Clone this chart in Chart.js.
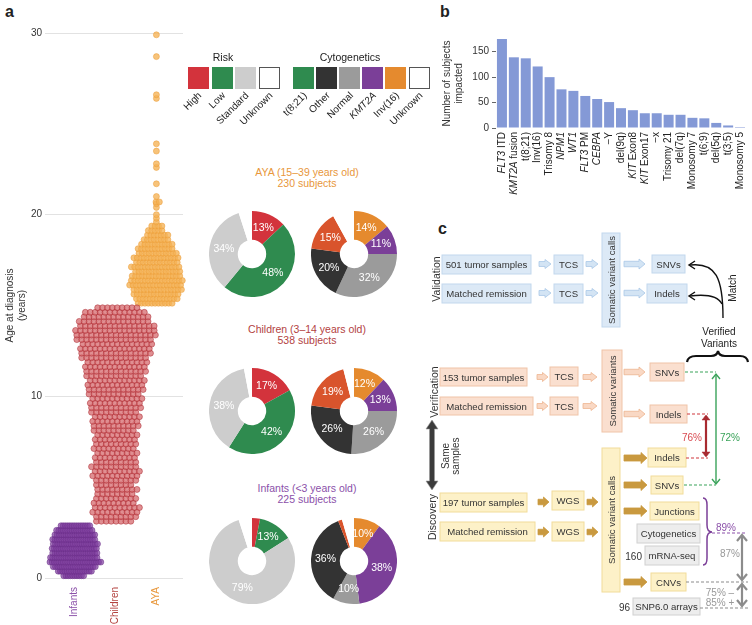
<!DOCTYPE html>
<html>
<head>
<meta charset="utf-8">
<script src="https://cdn.jsdelivr.net/npm/chart.js@4.4.1/dist/chart.umd.min.js"></script>
<style>
body { margin: 0; background: #fff; font-family: "Liberation Sans", Arial, sans-serif; color: #222; }
#page { position: relative; width: 752px; height: 625px; overflow: hidden; }
#page canvas, .abs { position: absolute; }
.panel { position: absolute; font-weight: bold; font-size: 16px; }
.sq { position: absolute; width: 21px; height: 22px; box-sizing: border-box; }
.lg { position: absolute; font-size: 10px; white-space: nowrap; transform-origin: 100% 50%; transform: rotate(-45deg); text-align: right; }
.ttl { position: absolute; width: 200px; text-align: center; font-size: 10.5px; line-height: 11px; }
</style>
</head>
<body>
<div id="page">
  <div class="panel" style="left:5px;top:3px">a</div>
  <div class="panel" style="left:440px;top:3px">b</div>
  <div class="panel" style="left:438px;top:220px">c</div>

  <canvas id="swarm" width="190" height="625" style="left:0;top:0"></canvas>
  <canvas id="bars" width="312" height="200" style="left:440px;top:0"></canvas>

  <div id="legend"></div>

  <div class="ttl" style="left:207px;top:167px;color:#e8973b">AYA (15–39 years old)<br>230 subjects</div>
  <div class="ttl" style="left:207px;top:324px;color:#b3423f">Children (3–14 years old)<br>538 subjects</div>
  <div class="ttl" style="left:207px;top:483px;color:#8b50a9">Infants (&lt;3 years old)<br>225 subjects</div>

  <canvas id="ayaRisk" width="86" height="86" style="left:209px;top:211px"></canvas>
  <canvas id="ayaCyto" width="86" height="86" style="left:311px;top:211px"></canvas>
  <canvas id="childRisk" width="86" height="86" style="left:209px;top:368px"></canvas>
  <canvas id="childCyto" width="86" height="86" style="left:311px;top:368px"></canvas>
  <canvas id="infantRisk" width="86" height="86" style="left:209px;top:518px"></canvas>
  <canvas id="infantCyto" width="86" height="86" style="left:311px;top:518px"></canvas>

  <svg id="flow" class="abs" width="752" height="625" style="left:0;top:0"></svg>
</div>

<script>
// ---- panel a: age at diagnosis, subjects per quarter-year row ----
const groupNames = ['Infants', 'Children', 'AYA'];
const infantAges = [0.125, 0.375, 0.625, 0.875, 1.125, 1.375, 1.625, 1.875, 2.125, 2.375, 2.625, 2.875];
const infantCounts = [10, 16, 20, 24, 22, 21, 21, 21, 20, 19, 17, 14];
const childAges = [3.125, 3.375, 3.625, 3.875, 4.125, 4.375, 4.625, 4.875, 5.125, 5.375, 5.625, 5.875,
  6.125, 6.375, 6.625, 6.875, 7.125, 7.375, 7.625, 7.875, 8.125, 8.375, 8.625, 8.875,
  9.125, 9.375, 9.625, 9.875, 10.125, 10.375, 10.625, 10.875, 11.125, 11.375, 11.625, 11.875,
  12.125, 12.375, 12.625, 12.875, 13.125, 13.375, 13.625, 13.875, 14.125, 14.375, 14.625, 14.875];
const childCounts = [8, 9, 10, 10, 9, 9, 8, 9, 8, 9, 10, 10,
  10, 9, 9, 9, 9, 9, 9, 9, 9, 10, 10, 10,
  10, 11, 11, 11, 11, 12, 12, 12, 12, 13, 13, 13,
  14, 15, 15, 15, 16, 17, 17, 16, 15, 14, 13, 9];
const ayaAges = [15.125, 15.375, 15.625, 15.875, 16.125, 16.375, 16.625, 16.875, 17.125, 17.375,
  17.625, 17.875, 18.125, 18.375, 18.625, 18.875, 19.125, 19.375,
  19.6, 19.8, 20.0, 20.4, 20.6, 20.7, 21.0, 21.7, 22.6, 22.8, 23.5, 23.9, 26.4, 26.6, 28.7, 29.9];
const ayaCounts = [11, 13, 14, 15, 16, 16, 15, 14, 15, 13, 14, 12, 11, 10, 8, 7, 5, 4,
  1, 1, 1, 1, 1, 2, 1, 1, 1, 1, 1, 1, 1, 1, 1, 1];
const ageTicks = [0, 10, 20, 30];

// ---- panel b ----
const alterations = ['FLT3 ITD', 'KMT2A fusion', 't(8;21)', 'Inv(16)', 'Trisomy 8', 'NPM1', 'WT1', 'FLT3 PM',
  'CEBPA', '−Y', 'del(9q)', 'KIT Exon8', 'KIT Exon17', '−x', 'Trisomy 21', 'del(7q)', 'Monosomy 7',
  't(6;9)', 'del(5q)', 't(3;5)', 'Monosomy 5'];
const subjects = [175, 139, 137, 121, 100, 76, 73, 63, 57, 51, 39, 35, 29, 29, 26, 26, 20, 19, 10, 5, 2];
const geneNames = ['FLT3', 'KMT2A', 'NPM1', 'WT1', 'CEBPA', 'KIT'];
const countTicks = [0, 50, 100, 150];

// ---- pies (percent of subjects, clockwise from 12 o'clock) ----
const riskLabels = ['High', 'Low', 'Standard', 'Unknown'];
const ayaRisk = [13, 48, 34, 5];
const childRisk = [17, 42, 38, 3];
const infantRisk = [3, 13, 79, 5];
const cytoLabels = ['Inv(16)', 'KMT2A', 'Normal', 'Other', 't(8;21)', 'Unknown'];
const ayaCyto = [14, 11, 32, 20, 15, 8];
const childCyto = [12, 13, 26, 26, 19, 4];
const infantCyto = [10, 38, 10, 36, 1.5, 4.5];

const FONT = '"Liberation Sans", Arial, sans-serif';
Chart.defaults.font.family = FONT;
Chart.defaults.color = '#333';

// swarm layout: rows centered on the group, rows nudged sideways for a packed look
const rowNudge = [0, 0.5, 0.25, 0.75];
function swarm(ages, counts, xc, gap) {
  const pts = [];
  ages.forEach((a, r) => {
    const n = counts[r];
    const nudge = n > 1 ? (rowNudge[r % 4] - 0.375) * gap : 0;
    for (let i = 0; i < n; i++) pts.push({ x: xc + (i - (n - 1) / 2) * gap + nudge, y: a });
  });
  return pts;
}

const groupColors = ['#8b50a9', '#b3423f', '#e8973b'];
const swarmLabels = {
  id: 'swarmLabels',
  afterDraw(chart) {
    const { ctx, scales: { x }, chartArea } = chart;
    groupNames.forEach((name, i) => {
      ctx.save();
      ctx.translate(x.getPixelForValue(i + 1), chartArea.bottom + 9);
      ctx.rotate(-Math.PI / 2);
      ctx.textAlign = 'right';
      ctx.textBaseline = 'middle';
      ctx.fillStyle = groupColors[i];
      ctx.font = '10px ' + FONT;
      ctx.fillText(name, 0, 0);
      ctx.restore();
    });
  }
};

new Chart(document.getElementById('swarm'), {
  type: 'scatter',
  data: {
    datasets: [
      { data: swarm(infantAges, infantCounts, 1, 0.054), backgroundColor: 'rgba(128,62,160,0.72)', borderColor: 'rgba(105,45,135,0.85)' },
      { data: swarm(childAges, childCounts, 2, 0.12), backgroundColor: 'rgba(212,100,104,0.72)', borderColor: 'rgba(170,40,48,0.85)' },
      { data: swarm(ayaAges, ayaCounts, 3, 0.083), backgroundColor: 'rgba(245,178,84,0.78)', borderColor: 'rgba(236,156,56,0.85)' }
    ]
  },
  options: {
    responsive: false,
    animation: false,
    clip: false,
    elements: { point: { radius: 3, borderWidth: 0.6 } },
    layout: { padding: { top: 33, right: 7, bottom: 47, left: 0 } },
    plugins: { legend: { display: false }, tooltip: { enabled: false } },
    scales: {
      x: { type: 'linear', min: 0.4, max: 3.65, display: false },
      y: {
        min: 0, max: 30,
        afterBuildTicks: s => { s.ticks = ageTicks.map(v => ({ value: v })); },
        afterFit: s => { s.width = 50; },
        grid: { color: '#e2e2e2', tickLength: 5 },
        border: { display: false },
        ticks: { font: { size: 10 }, padding: 3 },
        title: { display: true, text: ['Age at diagnosis', '(years)'], font: { size: 10 }, padding: 4 }
      }
    }
  },
  plugins: [swarmLabels]
});

// ---- panel b ----
const barLabels = {
  id: 'barLabels',
  afterDraw(chart) {
    const { ctx, scales: { x }, chartArea } = chart;
    const up = '10px ' + FONT, it = 'italic 10px ' + FONT;
    alterations.forEach((lab, i) => {
      const sp = lab.indexOf(' ');
      const first = sp < 0 ? lab : lab.slice(0, sp);
      const parts = geneNames.includes(first) ? [[first, it], [sp < 0 ? '' : lab.slice(sp), up]] : [[lab, up]];
      let w = 0;
      parts.forEach(p => { ctx.font = p[1]; w += ctx.measureText(p[0]).width; });
      ctx.save();
      ctx.translate(x.getPixelForValue(i), chartArea.bottom + 4);
      ctx.rotate(-Math.PI / 2);
      ctx.textAlign = 'left';
      ctx.textBaseline = 'middle';
      ctx.fillStyle = '#222';
      let px = -w;
      parts.forEach(p => { ctx.font = p[1]; ctx.fillText(p[0], px, 0); px += ctx.measureText(p[0]).width; });
      ctx.restore();
    });
  }
};

new Chart(document.getElementById('bars'), {
  type: 'bar',
  data: {
    labels: alterations,
    datasets: [{ data: subjects, backgroundColor: '#8499d6', categoryPercentage: 0.84, barPercentage: 1 }]
  },
  options: {
    responsive: false,
    animation: false,
    layout: { padding: { top: 39, right: 6, bottom: 72, left: 0 } },
    plugins: { legend: { display: false }, tooltip: { enabled: false } },
    scales: {
      x: { display: false },
      y: {
        min: 0, max: 175,
        afterBuildTicks: s => { s.ticks = countTicks.map(v => ({ value: v })); },
        afterFit: s => { s.width = 56; },
        grid: { drawOnChartArea: false, tickLength: 4, color: '#666' },
        border: { display: false },
        ticks: { font: { size: 10 }, padding: 3 },
        title: { display: true, text: ['Number of subjects', 'impacted'], font: { size: 10 }, padding: 1 }
      }
    }
  },
  plugins: [barLabels]
});

// ---- pies ----
const riskColors = ['#d3333c', '#2f8b4f', '#cdcdcd', '#ffffff'];
const cytoColors = ['#e58a2e', '#7b3f98', '#9b9b9b', '#333333', '#d9542c', '#ffffff'];

const pctLabels = {
  id: 'pctLabels',
  afterDatasetsDraw(chart) {
    const { ctx } = chart;
    const data = chart.data.datasets[0].data;
    ctx.save();
    ctx.font = '10.5px ' + FONT;
    ctx.fillStyle = '#fff';
    ctx.textAlign = 'center';
    ctx.textBaseline = 'middle';
    chart.getDatasetMeta(0).data.forEach((arc, i) => {
      if (i === data.length - 1 || data[i] < 8) return;
      const p = arc.getProps(['x', 'y', 'startAngle', 'endAngle', 'innerRadius', 'outerRadius'], true);
      const a = (p.startAngle + p.endAngle) / 2, r = (p.innerRadius + p.outerRadius) / 2;
      ctx.fillText(data[i] + '%', p.x + Math.cos(a) * r, p.y + Math.sin(a) * r);
    });
    ctx.restore();
  }
};

function donut(id, labels, values, colors) {
  new Chart(document.getElementById(id), {
    type: 'doughnut',
    data: { labels: labels, datasets: [{ data: values, backgroundColor: colors, borderWidth: 0 }] },
    options: {
      responsive: false,
      animation: false,
      cutout: '33%',
      plugins: { legend: { display: false }, tooltip: { enabled: false } }
    },
    plugins: [pctLabels]
  });
}
donut('ayaRisk', riskLabels, ayaRisk, riskColors);
donut('ayaCyto', cytoLabels, ayaCyto, cytoColors);
donut('childRisk', riskLabels, childRisk, riskColors);
donut('childCyto', cytoLabels, childCyto, cytoColors);
donut('infantRisk', riskLabels, infantRisk, riskColors);
donut('infantCyto', cytoLabels, infantCyto, cytoColors);

// ---- legend squares ----
const legend = document.getElementById('legend');
function legendRow(title, titleX, startX, step, items) {
  legend.insertAdjacentHTML('beforeend',
    `<div class="abs" style="left:${titleX - 50}px;top:51px;width:100px;text-align:center;font-size:10.5px">${title}</div>`);
  items.forEach((it, i) => {
    const x = startX + i * step;
    const st = it[1] === '#ffffff' ? 'background:#fff;border:1.5px solid #555' : 'background:' + it[1];
    legend.insertAdjacentHTML('beforeend', `<div class="sq" style="left:${x}px;top:67px;${st}"></div>`);
    legend.insertAdjacentHTML('beforeend',
      `<div class="lg" style="right:${752 - x - 12}px;top:88px;${it[2] ? 'font-style:italic' : ''}">${it[0]}</div>`);
  });
}
legendRow('Risk', 223, 188, 23.5, [['High', '#d3333c'], ['Low', '#2f8b4f'], ['Standard', '#cdcdcd'], ['Unknown', '#ffffff']]);
legendRow('Cytogenetics', 350, 293, 23.1, [['t(8;21)', '#2f8b4f'], ['Other', '#333333'], ['Normal', '#9b9b9b'],
  ['KMT2A', '#7b3f98', true], ['Inv(16)', '#e58a2e'], ['Unknown', '#ffffff']]);

// ---- panel c: workflow diagram ----
const svg = document.getElementById('flow');
const NS = 'http://www.w3.org/2000/svg';
function el(tag, attrs, txt) {
  const e = document.createElementNS(NS, tag);
  for (const k in attrs) e.setAttribute(k, attrs[k]);
  if (txt !== undefined) e.textContent = txt;
  svg.appendChild(e);
  return e;
}
function text(x, y, t, o = {}) {
  const a = { x, y, 'text-anchor': o.anchor || 'middle', 'dominant-baseline': 'central', fill: o.color || '#333',
    'font-size': o.size || 10, 'font-family': FONT };
  if (o.rot) a.transform = `rotate(-90 ${x} ${y})`;
  el('text', a, t);
}
const blue = { fill: '#dce9f6', stroke: '#c2d7ed', af: '#d3e4f4', as: '#a9c8e7' };
const salmon = { fill: '#fadfcf', stroke: '#f0c4a8', af: '#f9d8c4', as: '#eeb590' };
const gold = { fill: '#fdf1c8', stroke: '#f1dc9a', af: '#c9993f', as: '#c9993f' };
const grey = { fill: '#ededed', stroke: '#d0d0d0' };
function box(x, y, w, h, th, t) {
  el('rect', { x, y, width: w, height: h, fill: th.fill, stroke: th.stroke, 'stroke-width': 1 });
  text(x + w / 2, y + h / 2, t, { rot: h > w, size: 9.6 });
}
function arrow(x1, x2, y, th, hh) {
  hh = hh || 5;
  const sh = hh * 0.55, hl = Math.min(6, (x2 - x1) * 0.5);
  el('polygon', { points: `${x1},${y - sh} ${x2 - hl},${y - sh} ${x2 - hl},${y - hh} ${x2},${y} ${x2 - hl},${y + hh} ${x2 - hl},${y + sh} ${x1},${y + sh}`,
    fill: th.af, stroke: th.as, 'stroke-width': 0.8 });
}
function line(x1, y1, x2, y2, c, w, dash) {
  const a = { x1, y1, x2, y2, stroke: c, 'stroke-width': w };
  if (dash) a['stroke-dasharray'] = dash;
  el('line', a);
}
function vDouble(x, y1, y2, c, w, hw, filled) {
  line(x, y1 + 1, x, y2 - 1, c, w);
  const up = `${x - hw},${y1 + hw + 1} ${x},${y1} ${x + hw},${y1 + hw + 1}`;
  const dn = `${x - hw},${y2 - hw - 1} ${x},${y2} ${x + hw},${y2 - hw - 1}`;
  [up, dn].forEach(p => el(filled ? 'polygon' : 'polyline',
    { points: p, fill: filled ? c : 'none', stroke: c, 'stroke-width': filled ? 0.5 : w, 'stroke-linejoin': 'miter' }));
}

// side labels
text(436, 279, 'Validation', { rot: true, size: 10.5 });
text(434, 392, 'Verification', { rot: true, size: 10.5 });
text(432, 517, 'Discovery', { rot: true, size: 10.5 });
el('polygon', { points: '432,420 438,429 434.5,429 434.5,481 438,481 432,490 426,481 429.5,481 429.5,429 426,429',
  fill: '#3b3b3b', stroke: '#9a9a9a', 'stroke-width': 0.6 });
text(445, 456, 'Same', { rot: true, size: 10 });
text(455, 456, 'samples', { rot: true, size: 10 });

// validation
box(442, 255, 89, 19, blue, '501 tumor samples');
box(442, 284, 89, 19, blue, 'Matched remission');
arrow(539, 551, 264, blue, 4.5); arrow(539, 551, 293, blue, 4.5);
box(554, 255, 29, 19, blue, 'TCS'); box(554, 284, 29, 19, blue, 'TCS');
arrow(586, 598, 264, blue, 4.5); arrow(586, 598, 293, blue, 4.5);
box(602, 233, 18, 94, blue, 'Somatic variant calls');
arrow(624, 645, 264, blue); arrow(624, 645, 293, blue);
box(652, 255, 33, 18, blue, 'SNVs'); box(647, 284, 40, 19, blue, 'Indels');

// verification
box(440, 368, 87, 18, salmon, '153 tumor samples');
box(440, 397, 93, 18, salmon, 'Matched remission');
arrow(537, 548, 377, salmon, 4.5); arrow(537, 548, 406, salmon, 4.5);
box(550, 367, 28, 19, salmon, 'TCS'); box(550, 397, 28, 18, salmon, 'TCS');
arrow(583, 597, 377, salmon, 4.5); arrow(583, 597, 406, salmon, 4.5);
box(602, 350, 20, 82, salmon, 'Somatic variants');
arrow(624, 645, 372, salmon); arrow(624, 645, 414, salmon);
box(650, 363, 34, 18, salmon, 'SNVs'); box(650, 405, 37, 18, salmon, 'Indels');

// discovery
box(440, 493, 87, 19, gold, '197 tumor samples');
box(440, 522, 95, 19, gold, 'Matched remission');
arrow(538, 549, 502, gold, 5); arrow(538, 549, 532, gold, 5);
box(552, 491, 32, 19, gold, 'WGS'); box(552, 522, 32, 19, gold, 'WGS');
arrow(587, 598, 502, gold, 5); arrow(587, 598, 532, gold, 5);
box(602, 448, 18, 144, gold, 'Somatic variant calls');
[458, 485, 511, 582].forEach(y => arrow(624, 647, y, gold, 5.5));
box(648, 448, 38, 19, gold, 'Indels');
box(651, 476, 32, 18, gold, 'SNVs');
box(650, 502, 49, 18, gold, 'Junctions');
box(651, 573, 35, 18, gold, 'CNVs');
box(637, 524, 63, 19, grey, 'Cytogenetics');
box(645, 546, 54, 19, grey, 'mRNA-seq');
box(633, 598, 67, 17, grey, 'SNP6.0 arrays');
text(642, 556, '160', { anchor: 'end' });
text(630, 607, '96', { anchor: 'end' });

// match / verified variants
el('path', { d: 'M723,318 C723,278 716,262 690,265', fill: 'none', stroke: '#111', 'stroke-width': 1.4 });
el('path', { d: 'M722,304 C718,296 706,294 690,296', fill: 'none', stroke: '#111', 'stroke-width': 1.4 });
el('polyline', { points: '695,261 689,265 695,269', fill: 'none', stroke: '#111', 'stroke-width': 1.4 });
el('polyline', { points: '695,292 689,296 695,300', fill: 'none', stroke: '#111', 'stroke-width': 1.4 });
text(732, 288, 'Match', { rot: true, color: '#222' });
text(719, 331, 'Verified', { color: '#222' });
text(719, 343, 'Variants', { color: '#222' });
el('path', { d: 'M687,362 Q688,356 696,356 L711,356 Q717,356 718,351 Q719,356 725,356 L740,356 Q747,356 748,362',
  fill: 'none', stroke: '#111', 'stroke-width': 2.2 });

// verification rates
line(685, 372, 716, 372, '#3aa35a', 1.2, '3,2');
line(684, 485, 716, 485, '#3aa35a', 1.2, '3,2');
vDouble(716, 374, 484, '#3aa35a', 1.4, 4, false);
text(730, 437, '72%', { color: '#3aa35a' });
line(687, 414, 708, 414, '#d0363d', 1.2, '3,2');
line(686, 458, 708, 458, '#d0363d', 1.2, '3,2');
vDouble(706, 415, 457, '#a82a30', 2.2, 4, true);
text(692, 437, '76%', { color: '#d84a50' });

el('path', { d: 'M703,498 Q707,498 707,505 L707,525 Q707,532 712,532 Q707,532 707,539 L707,558 Q707,565 703,565',
  fill: 'none', stroke: '#7b3f98', 'stroke-width': 1.5 });
text(726, 527, '89%', { color: '#8b50a9' });
line(712, 533, 746, 533, '#8b50a9', 1.2, '3,2');
vDouble(742, 535, 580, '#8c8c8c', 2.2, 5, false);
text(730, 553, '87%', { color: '#999' });
line(686, 582, 748, 582, '#8c8c8c', 1.2, '3,2');
vDouble(742, 584, 606, '#8c8c8c', 2.2, 5, false);
text(720, 592, '75% –', { color: '#999' });
text(720, 602, '85% +', { color: '#999' });
line(700, 608, 748, 608, '#8c8c8c', 1.2, '3,2');
</script>
</body>
</html>
